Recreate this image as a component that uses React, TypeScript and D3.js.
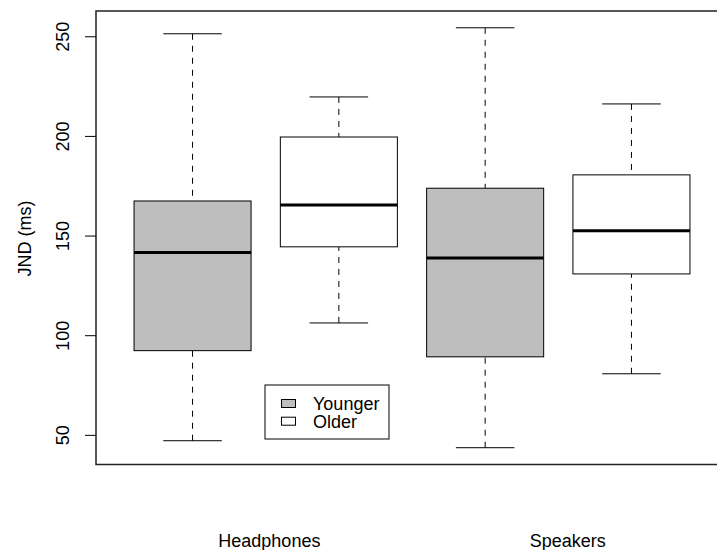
import React from "react";
import * as d3 from "d3";

// Just-noticeable difference (ms) by listening condition and age group
const groups = ["Headphones", "Speakers"];
const series = ["Younger", "Older"];
const seriesFill = ["#bebebe", "#ffffff"];

// five-number summaries: [lower whisker, Q1, median, Q3, upper whisker]
const younger = [
  [47.3, 92.5, 141.7, 167.6, 251.5],
  [43.8, 89.4, 139.0, 174.0, 254.5],
];
const older = [
  [106.4, 144.6, 165.6, 199.7, 219.8],
  [80.9, 131.0, 152.6, 180.7, 216.3],
];
const yTicks = [50, 100, 150, 200, 250];
const yLabel = "JND (ms)";

const W = 717;
const H = 550;
const FONT = "'Liberation Sans', Arial, Helvetica, sans-serif";

export default function App() {
  const boxes = groups.flatMap((g, gi) => [
    { pos: gi * 2 + 1, stats: younger[gi], fill: seriesFill[0] },
    { pos: gi * 2 + 2, stats: older[gi], fill: seriesFill[1] },
  ]);
  const allVals = boxes.flatMap((b) => b.stats);
  const lo = d3.min(allVals)!;
  const hi = d3.max(allVals)!;
  const pad = (hi - lo) * 0.04;

  const x = d3.scaleLinear().domain([0.34, 4.66]).range([96, 728]);
  const y = d3.scaleLinear().domain([lo - pad, hi + pad]).range([464.5, 11]);

  const halfBox = (x(1.4) - x(1)) ;
  const halfCap = halfBox / 2;
  const labelAt = [1.525, 3.565];

  return (
    <svg
      width={W}
      height={H}
      style={{ position: "absolute", left: 0, top: 0, display: "block", background: "#fff" }}
      fontFamily={FONT}
    >
      {boxes.map((b, i) => {
        const cx = x(b.pos);
        const [wl, q1, med, q3, wh] = b.stats;
        return (
          <g key={i}>
            <line x1={cx} x2={cx} y1={y(wh)} y2={y(q3)} stroke="#000" strokeWidth={1} strokeDasharray="6,6" />
            <line x1={cx} x2={cx} y1={y(wl)} y2={y(q1)} stroke="#000" strokeWidth={1} strokeDasharray="6,6" />
            <line x1={cx - halfCap} x2={cx + halfCap} y1={y(wh)} y2={y(wh)} stroke="#000" strokeWidth={1} />
            <line x1={cx - halfCap} x2={cx + halfCap} y1={y(wl)} y2={y(wl)} stroke="#000" strokeWidth={1} />
            <rect
              x={cx - halfBox}
              y={y(q3)}
              width={halfBox * 2}
              height={y(q1) - y(q3)}
              fill={b.fill}
              stroke="#000"
              strokeWidth={1}
            />
            <line x1={cx - halfBox} x2={cx + halfBox} y1={y(med)} y2={y(med)} stroke="#000" strokeWidth={3} />
          </g>
        );
      })}

      {/* plot frame */}
      <rect x={96} y={11} width={632} height={453.5} fill="none" stroke="#222" strokeWidth={1.5} />

      {/* y axis */}
      {yTicks.map((t) => (
        <g key={t}>
          <line x1={85} x2={96} y1={y(t)} y2={y(t)} stroke="#000" strokeWidth={1} />
          <text
            transform={`translate(68.5,${y(t)}) rotate(-90)`}
            textAnchor="middle"
            fontSize={18}
            fill="#000"
          >
            {t}
          </text>
        </g>
      ))}
      <text transform={`translate(31,238.5) rotate(-90)`} textAnchor="middle" fontSize={18} fill="#000">
        {yLabel}
      </text>

      {/* group labels */}
      {groups.map((g, gi) => (
        <text key={g} x={x(labelAt[gi])} y={546.5} textAnchor="middle" fontSize={18} fill="#000">
          {g}
        </text>
      ))}

      {/* legend */}
      <g>
        <rect x={265} y={385} width={124} height={54} fill="#fff" stroke="#000" strokeWidth={1} />
        {series.map((s, i) => (
          <g key={s}>
            <rect x={281.5} y={399.5 + i * 17.7} width={14} height={8} fill={seriesFill[i]} stroke="#000" strokeWidth={1} />
            <text x={313} y={410 + i * 17.7} fontSize={18} fill="#000">
              {s}
            </text>
          </g>
        ))}
      </g>
    </svg>
  );
}
